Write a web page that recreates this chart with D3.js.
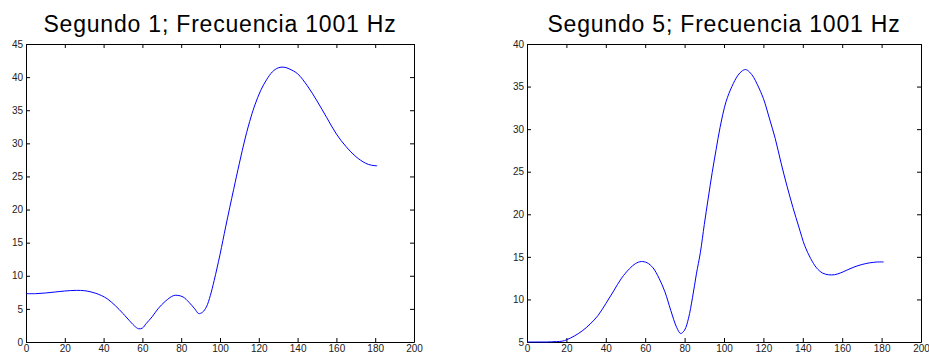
<!DOCTYPE html>
<html>
<head>
<meta charset="utf-8">
<script src="https://cdn.jsdelivr.net/npm/d3@7"></script>
<style>
  body { margin: 0; background: #fff; }
  svg { display: block; }
  .tick text { font-family: Arial, "Liberation Sans", sans-serif; font-size: 10px; fill: #222; }
  .tick line { stroke: #000; }
  .domain { stroke: #000; }
</style>
</head>
<body>
<svg id="chart" width="929" height="356"></svg>
<script>
// left panel: second 1
const s1X = [0, 5, 10, 15, 20, 26, 30, 33, 36, 39, 42, 46, 50, 54, 56, 58, 60, 62, 65, 68, 72, 76, 78, 81, 84, 87, 89, 91, 93, 95, 97, 100, 103, 107, 110, 113, 116, 118, 121, 124, 127, 130, 133, 136, 140, 145, 150, 155, 160, 165, 170, 175, 178, 181];
const s1Y = [7.3, 7.3, 7.4, 7.55, 7.7, 7.8, 7.75, 7.6, 7.35, 7.0, 6.5, 5.5, 4.3, 3.0, 2.4, 2.0, 2.1, 2.8, 3.8, 5.0, 6.2, 7.0, 7.05, 6.8, 6.0, 5.0, 4.3, 4.5, 5.3, 7.0, 9.3, 13.2, 17.5, 23, 27, 30.8, 34, 35.8, 38, 39.6, 40.8, 41.4, 41.5, 41.2, 40.5, 38.7, 36.4, 33.9, 31.4, 29.5, 28.0, 27.0, 26.7, 26.6];

// right panel: second 5
const s5X = [0, 5, 10, 15, 18, 20, 24, 28, 32, 36, 40, 44, 48, 52, 55, 58, 61, 64, 67, 70, 73, 76, 78, 80, 82, 84, 86, 88, 90, 92, 94, 96, 98, 101, 104, 107, 109, 111, 113, 115, 117, 120, 123, 126, 129, 132, 135, 138, 141, 144, 147, 150, 153, 156, 159, 162, 166, 170, 174, 178, 181];
const s5Y = [5.0, 5.0, 5.0, 5.05, 5.1, 5.25, 5.7, 6.3, 7.1, 8.1, 9.5, 11.0, 12.5, 13.6, 14.2, 14.45, 14.3, 13.7, 12.5, 10.9, 8.7, 6.7, 6.0, 6.4, 7.8, 10.2, 13, 15.5, 18.8, 21.9, 24.9, 27.6, 30.2, 33.2, 35.0, 36.3, 36.8, 37.0, 36.7, 36.1, 35.2, 33.6, 31.3, 28.9, 26.0, 23.3, 20.8, 18.5, 16.3, 14.8, 13.7, 13.1, 12.9, 12.9, 13.1, 13.4, 13.8, 14.1, 14.3, 14.4, 14.4];

const xTicks = [0, 20, 40, 60, 80, 100, 120, 140, 160, 180, 200];
const y1Ticks = [0, 5, 10, 15, 20, 25, 30, 35, 40, 45];
const y5Ticks = [5, 10, 15, 20, 25, 30, 35, 40];

const panels = [
  { title: "Segundo 1; Frecuencia 1001 Hz", xs: s1X, ys: s1Y, yDomain: [0, 45], yTicks: y1Ticks, left: 26, right: 414 },
  { title: "Segundo 5; Frecuencia 1001 Hz", xs: s5X, ys: s5Y, yDomain: [5, 40], yTicks: y5Ticks, left: 527, right: 921 }
];

const plotTop = 44, plotBottom = 342;
const svg = d3.select("#chart");

panels.forEach(p => {
  const x = d3.scaleLinear().domain([0, 200]).range([p.left, p.right]);
  const y = d3.scaleLinear().domain(p.yDomain).range([plotBottom, plotTop]);

  // ticks point inward on all four sides, labels only bottom/left
  svg.append("g")
    .attr("transform", `translate(0,${plotBottom})`)
    .call(d3.axisBottom(x).tickValues(xTicks).tickSizeInner(-4).tickSizeOuter(0).tickPadding(3));
  svg.append("g")
    .attr("transform", `translate(0,${plotTop})`)
    .call(d3.axisTop(x).tickValues(xTicks).tickSizeInner(-4).tickSizeOuter(0).tickFormat(""));
  svg.append("g")
    .attr("transform", `translate(${p.left},0)`)
    .call(d3.axisLeft(y).tickValues(p.yTicks).tickSizeInner(-4).tickSizeOuter(0).tickPadding(3));
  svg.append("g")
    .attr("transform", `translate(${p.right},0)`)
    .call(d3.axisRight(y).tickValues(p.yTicks).tickSizeInner(-4).tickSizeOuter(0).tickFormat(""));

  const line = d3.line()
    .x((d, i) => x(p.xs[i]))
    .y(d => y(d))
    .curve(d3.curveCatmullRom);

  svg.append("path")
    .datum(p.ys)
    .attr("fill", "none")
    .attr("stroke", "#0000ff")
    .attr("stroke-width", 1)
    .attr("d", line);

  svg.append("text")
    .attr("x", (p.left + p.right) / 2)
    .attr("y", 32)
    .attr("text-anchor", "middle")
    .attr("font-family", "Arial, 'Liberation Sans', sans-serif")
    .attr("font-size", "23px")
    .attr("letter-spacing", "0.8px")
    .text(p.title);
});
</script>
</body>
</html>
